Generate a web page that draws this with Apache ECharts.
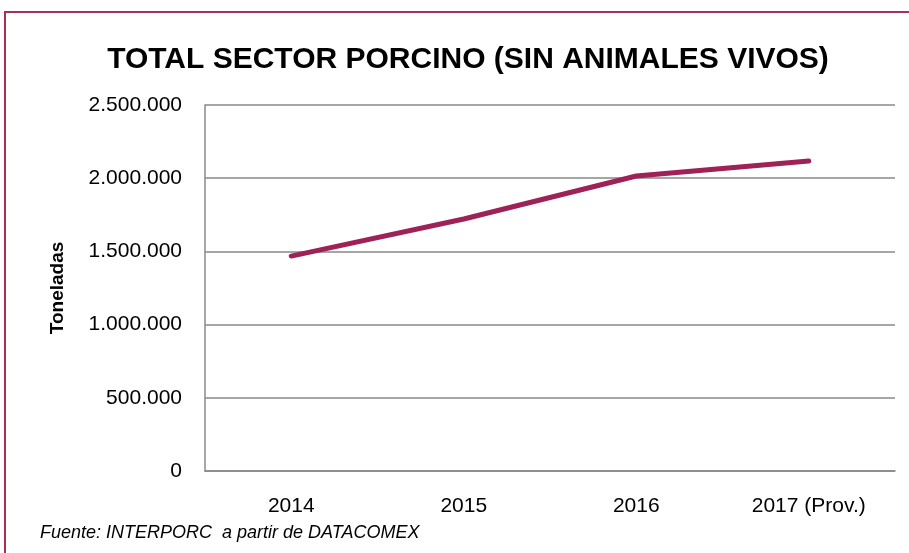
<!DOCTYPE html>
<html>
<head>
<meta charset="utf-8">
<script src="https://cdn.jsdelivr.net/npm/echarts@6/dist/echarts.min.js"></script>
<style>
  html, body { margin: 0; padding: 0; background: #fff; }
  #chart { width: 909px; height: 553px; }
</style>
</head>
<body>
<div id="chart"></div>
<script>
// categories and values (toneladas)
const years = ["2014", "2015", "2016", "2017 (Prov.)"];
const toneladas = [1468000, 1721000, 2015000, 2117000];
const yTicks = [0, 500000, 1000000, 1500000, 2000000, 2500000];

const FONT = "'Liberation Sans', Arial, sans-serif";

function fmtMiles(v) {
  return String(v).replace(/\B(?=(\d{3})+(?!\d))/g, ".");
}

const myEcharts = echarts.init(document.getElementById("chart"));
const option = {
  animation: false,
  title: {
    text: "TOTAL SECTOR PORCINO (SIN ANIMALES VIVOS)",
    left: 463,
    textAlign: "center",
    top: 40,
    textStyle: {
      fontFamily: FONT,
      fontWeight: "bold",
      fontSize: 30,
      color: "#000",
    },
  },
  graphic: [
    {
      type: "rect",
      shape: { x: 5, y: 12, width: 920, height: 560 },
      style: { fill: "none", stroke: "#A3305E", lineWidth: 2 },
      silent: true,
    },
    {
      type: "text",
      left: 40,
      top: 524,
      style: {
        text: "Fuente: INTERPORC  a partir de DATACOMEX",
        fontFamily: FONT,
        fontStyle: "italic",
        fontSize: 18,
        fill: "#000",
      },
    },
  ],
  grid: {
    left: 205,
    right: 14,
    top: 105,
    bottom: 82,
    containLabel: false,
  },
  xAxis: {
    type: "category",
    data: years,
    boundaryGap: true,
    axisLine: { show: true, lineStyle: { color: "#888", width: 1.5 } },
    axisTick: { show: false },
    axisLabel: {
      margin: 25,
      fontFamily: FONT,
      fontSize: 21,
      color: "#000",
    },
  },
  yAxis: {
    type: "value",
    min: yTicks[0],
    max: yTicks[yTicks.length - 1],
    interval: yTicks[1] - yTicks[0],
    name: "Toneladas",
    nameLocation: "middle",
    nameGap: 138,
    nameRotate: 90,
    nameTextStyle: {
      fontFamily: FONT,
      fontWeight: "bold",
      fontSize: 19,
      color: "#000",
    },
    axisLine: { show: true, lineStyle: { color: "#888", width: 1.5 } },
    axisTick: { show: false },
    splitLine: { show: true, lineStyle: { color: "#888", width: 1.5 } },
    axisLabel: {
      margin: 23,
      fontFamily: FONT,
      fontSize: 21,
      color: "#000",
      formatter: fmtMiles,
    },
  },
  series: [
    {
      name: "Toneladas",
      type: "line",
      data: toneladas,
      symbol: "none",
      lineStyle: { color: "#9E2157", width: 5, cap: "round" },
    },
  ],
};
myEcharts.setOption(option);
</script>
</body>
</html>
